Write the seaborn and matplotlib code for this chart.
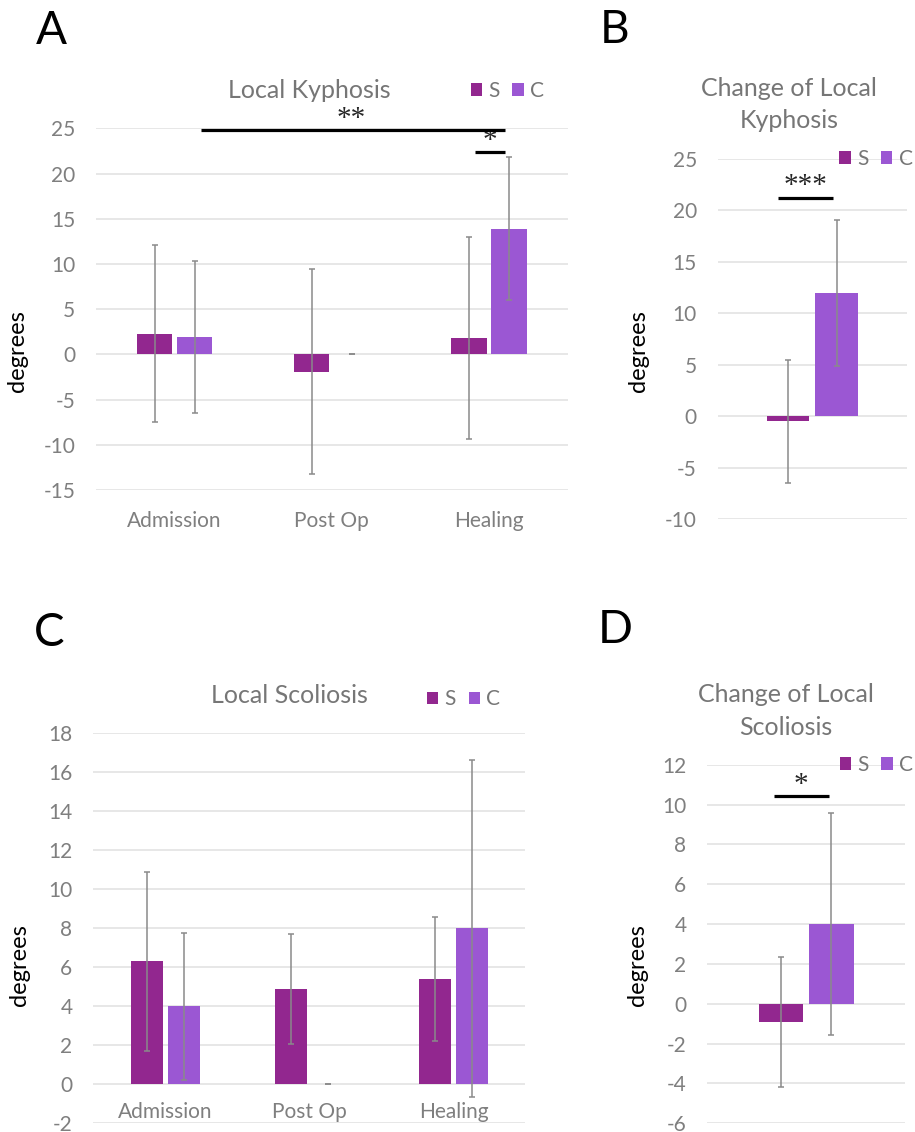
"""
Local kyphosis / scoliosis bar charts (S vs C), four panels.
"""
import numpy as np
import pandas as pd
import matplotlib
matplotlib.use("Agg")
import matplotlib.pyplot as plt
import seaborn as sns

# values (mean, sd)
phases = ["Admission", "Post Op", "Healing"]
change_cat = ["Change"]
groups = ["S", "C"]

kyph_s_mean = [2.3, -1.9, 1.8]
kyph_s_sd = [9.8, 11.3, 11.2]
kyph_c_mean = [1.9, 0.0, 13.9]
kyph_c_sd = [8.4, 0.0, 7.9]

dkyph_s_mean = [-0.5]
dkyph_s_sd = [6.0]
dkyph_c_mean = [12.0]
dkyph_c_sd = [7.1]

scol_s_mean = [6.3, 4.9, 5.4]
scol_s_sd = [4.57, 2.82, 3.2]
scol_c_mean = [4.0, 0.0, 8.0]
scol_c_sd = [3.77, 0.0, 8.63]

dscol_s_mean = [-0.9]
dscol_s_sd = [3.27]
dscol_c_mean = [4.0]
dscol_c_sd = [5.55]

S_COLOR = "#92278F"
C_COLOR = "#9B57D3"
ERR_COLOR = "#8a8a8a"
GRID_COLOR = "#e0e0e0"
TICK_GRAY = "#7f7f7f"
TITLE_GRAY = "#767676"

sns.set_style("white")
plt.rcParams['font.family'] = ['Lato', 'DejaVu Sans']
plt.rcParams['axes.unicode_minus'] = False


def make_df(cats, s_mean, s_sd, c_mean, c_sd):
    return pd.DataFrame({
        "phase": list(cats) * 2,
        "group": ["S"] * len(cats) + ["C"] * len(cats),
        "mean": list(s_mean) + list(c_mean),
        "sd": list(s_sd) + list(c_sd),
    })


def draw_panel(ax, df, ylim, step, title, title_xy, legend_xy, ylabel_xy,
               show_x=True, x_at_zero=False, x_pad=15):
    sns.barplot(data=df, x="phase", y="mean", hue="group", hue_order=groups,
                palette=[S_COLOR, C_COLOR], saturation=1, errorbar=None,
                width=0.51, gap=0.12, linewidth=0, ax=ax, zorder=2)

    # error bars on top of each bar
    for cont, g in zip(ax.containers, groups):
        sd = df.loc[df["group"] == g, "sd"].to_numpy()
        xs = [p.get_x() + p.get_width() / 2 for p in cont]
        ys = [p.get_y() + p.get_height() for p in cont]
        ax.errorbar(xs, ys, yerr=sd, fmt="none", ecolor=ERR_COLOR,
                    elinewidth=1.1, capsize=2.2, capthick=1.1, zorder=3)

    n_cat = df["phase"].nunique()
    ax.set_xlim(-0.5, n_cat - 0.5)
    ax.set_ylim(*ylim)
    ax.set_yticks(np.arange(ylim[0], ylim[1] + step / 2, step))
    ax.set_axisbelow(True)
    ax.yaxis.grid(True, color=GRID_COLOR, lw=1.1)
    ax.xaxis.grid(False)
    sns.despine(ax=ax, left=True, bottom=True)
    ax.set_xlabel("")
    ax.set_ylabel("")
    ax.tick_params(axis="y", length=0, pad=15, labelsize=15, colors=TICK_GRAY)
    ax.tick_params(axis="x", length=0, pad=x_pad, labelsize=15, colors=TICK_GRAY)
    if x_at_zero:
        ax.spines["bottom"].set_position(("data", 0))
    if not show_x:
        ax.tick_params(axis="x", labelbottom=False)

    ax.text(title_xy[0], title_xy[1], title, transform=ax.transAxes,
            ha="center", va="baseline", fontsize=18, color=TITLE_GRAY,
            linespacing=1.5)
    ax.text(ylabel_xy[0], ylabel_xy[1], "degrees", transform=ax.transAxes,
            rotation=90, ha="center", va="center", fontsize=17, color="black")

    sns.move_legend(ax, "center", bbox_to_anchor=legend_xy, ncol=2,
                    frameon=False, title=None, fontsize=15,
                    labelcolor=TITLE_GRAY, handlelength=0.55,
                    handleheight=0.55, handletextpad=0.3, columnspacing=0.6,
                    borderaxespad=0, borderpad=0)


def sig(ax, x0, x1, y, label, xt):
    ax.plot([x0, x1], [y, y], color="black", lw=2.3, clip_on=False,
            solid_capstyle="butt", zorder=4)
    ax.annotate(label, xy=(xt, y), xytext=(0, 3), textcoords="offset points",
                ha="center", va="baseline", fontsize=21,
                family="Liberation Serif", annotation_clip=False)


fig = plt.figure(figsize=(9.15, 11.32), dpi=100)

ax_a = fig.add_axes([0.1049, 0.5671, 0.5154, 0.3195])
ax_b = fig.add_axes([0.7844, 0.5415, 0.2069, 0.3180])
ax_c = fig.add_axes([0.1020, 0.00769, 0.4723, 0.3445])
ax_d = fig.add_axes([0.7730, 0.00769, 0.2161, 0.3168])

draw_panel(ax_a, make_df(phases, kyph_s_mean, kyph_s_sd, kyph_c_mean, kyph_c_sd),
           (-15, 25), 5, "Local Kyphosis", (0.453, 1.083), (0.872, 1.103),
           (-0.1665, 0.384))
sig(ax_a, 0.167, 2.105, 24.8, "**", 1.124)
sig(ax_a, 1.913, 2.105, 22.4, "*", 2.008)

draw_panel(ax_b, make_df(change_cat, dkyph_s_mean, dkyph_s_sd, dkyph_c_mean, dkyph_c_sd),
           (-10, 25), 5, "Change of Local\nKyphosis", (0.376, 1.085), (0.836, 1.0),
           (-0.416, 0.467), show_x=False)
sig(ax_b, -0.18, 0.1075, 21.26, "***", -0.035)

draw_panel(ax_c, make_df(phases, scol_s_mean, scol_s_sd, scol_c_mean, scol_c_sd),
           (-2, 18), 2, "Local Scoliosis", (0.454, 1.077), (0.857, 1.087),
           (-0.170, 0.406), x_at_zero=True, x_pad=12.7)

draw_panel(ax_d, make_df(change_cat, dscol_s_mean, dscol_s_sd, dscol_c_mean, dscol_c_sd),
           (-6, 12), 2, "Change of Local\nScoliosis", (0.398, 1.083), (0.856, 1.0),
           (-0.353, 0.441), show_x=False)
sig(ax_d, -0.164, 0.114, 10.42, "*", -0.026)

# panel letters
for x, y, letter in [(0.0393, 0.9609, "A"), (0.6557, 0.9620, "B"),
                     (0.0372, 0.4293, "C"), (0.6532, 0.4320, "D")]:
    fig.text(x, y, letter, fontsize=33, color="black", ha="left", va="baseline")

fig.savefig("out.png", dpi=100)
